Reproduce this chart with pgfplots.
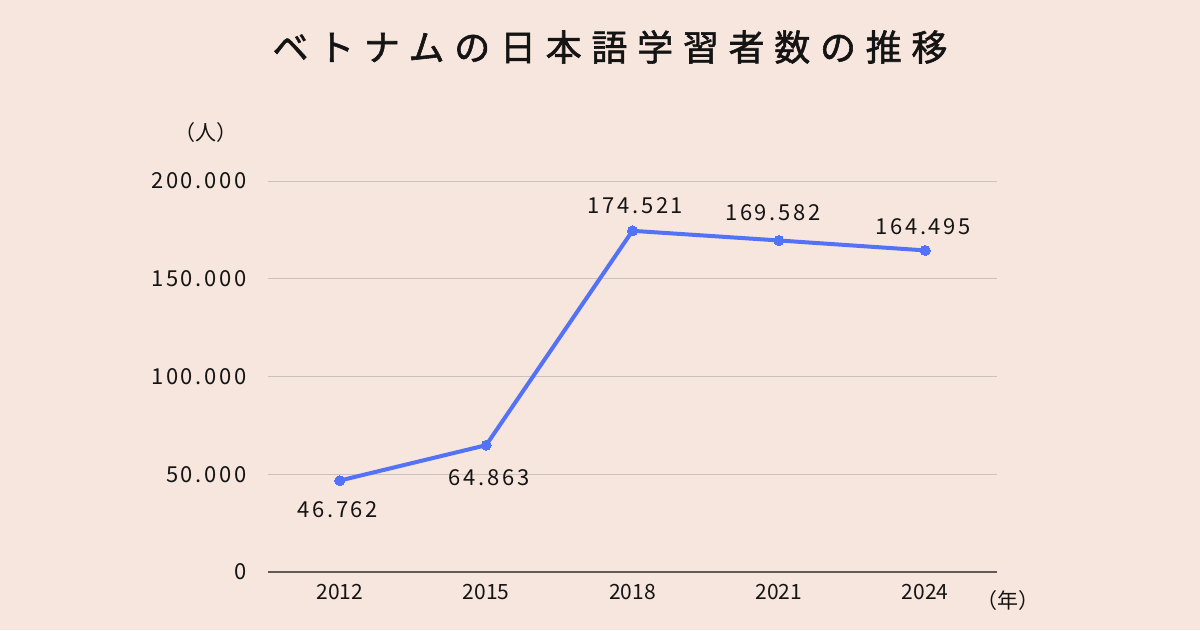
\documentclass[border=0pt]{standalone}
\usepackage{pgfplots}
\pgfplotsset{compat=1.18}
\usepackage{fontspec}
\setmainfont{Noto Sans CJK JP}
\definecolor{bg}{RGB}{247,230,221}
\definecolor{lineblue}{RGB}{84,114,246}
\definecolor{gridc}{RGB}{202,194,190}
\definecolor{axc}{RGB}{95,90,88}
\definecolor{txt}{RGB}{20,20,20}
\newcommand{\numf}{\fontsize{22}{24}\selectfont\addfontfeature{LetterSpace=12}}
\begin{document}
\begin{tikzpicture}[x=1pt,y=1pt]
\fill[bg] (0,0) rectangle (1200,630);
\node[text=txt, font=\fontsize{36}{38}\selectfont\addfontfeature{LetterSpace=27,FakeBold=1.6}] at (610,583) {ベトナムの日本語学習者数の推移};
\node[text=txt, font=\fontsize{21}{24}\selectfont] at (206,497) {（人）};
\node[text=txt, font=\fontsize{21}{24}\selectfont] at (1008,29) {（年）};
\begin{axis}[
  at={(268pt,58pt)}, anchor=south west,
  scale only axis, width=729pt, height=391pt,
  xmin=-0.49, xmax=4.49, ymin=0, ymax=200000,
  clip=false,
  axis line style={draw=none},
  major tick length=0pt,
  xtick={0,1,2,3,4},
  xticklabels={2012,2015,2018,2021,2024},
  ytick={0,50000,100000,150000,200000},
  yticklabels={0,50.000,100.000,150.000,200.000},
  scaled y ticks=false,
  ymajorgrids,
  major grid style={gridc, line width=1pt},
  xticklabel style={text=txt, font=\fontsize{21}{24}\selectfont, yshift=-9pt},
  yticklabel style={text=txt, font=\numf, xshift=-18pt, anchor=east},
]
\draw[axc, line width=1.2pt] (axis cs:-0.49,0) -- (axis cs:4.49,0);
\addplot[lineblue, line width=4pt, mark=*, mark size=5pt, mark options={fill=lineblue, draw=lineblue, line width=0pt}]
 coordinates {(0,46762) (1,64863) (2,174521) (3,169582) (4,164495)};
\node[text=txt, font=\numf] at (axis cs:0,46762) [xshift=-2pt, yshift=-29pt] {46.762};
\node[text=txt, font=\numf] at (axis cs:1,64863) [xshift=3pt, yshift=-32pt] {64.863};
\node[text=txt, font=\numf] at (axis cs:2,174521) [xshift=3pt, yshift=25pt] {174.521};
\node[text=txt, font=\numf] at (axis cs:3,169582) [xshift=-6pt, yshift=28pt] {169.582};
\node[text=txt, font=\numf] at (axis cs:4,164495) [xshift=-2pt, yshift=24pt] {164.495};
\end{axis}
\end{tikzpicture}
\end{document}
